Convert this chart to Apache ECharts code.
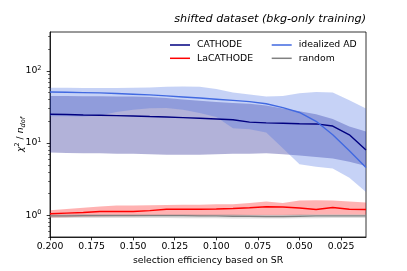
<!DOCTYPE html>
<html>
<head>
<meta charset="utf-8">
<script src="https://cdn.jsdelivr.net/npm/echarts@6/dist/echarts.min.js"></script>
<style>html,body{margin:0;padding:0;background:#fff}#c{width:407px;height:271px}</style>
</head>
<body>
<div id="c"></div>
<script>
// selection efficiency (x)
const effs = [0.20,0.19,0.18,0.17,0.16,0.15,0.14,0.13,0.12,0.11,0.10,0.09,0.08,0.07,0.06,0.05,0.04,0.03,0.02,0.01];
// CATHODE
const cathodeMed = [25,24.8,24.5,24.3,24,23.7,23.3,23,22.5,22,21.5,21,19.5,19,18.8,18.5,18.4,17.2,13,8];
const cathodeHi  = [45,45,44.5,44.5,44,44,43.5,42,40,38.5,37,36,35,33,30,27.5,25,21.5,17,14.4];
const cathodeLo  = [7.4,7.3,7.2,7.2,7.1,7.1,7.0,6.9,6.9,6.9,7.0,7.1,7.1,7.2,7.0,6.7,6.4,6.1,5.5,4.8];
// idealized AD
const idealMed = [51,50.5,50,49.5,48.5,47.5,46.5,45,43.5,42,40.5,39,37.5,35,31,26.5,20,13,7.8,4.6];
const idealHi  = [58.5,58.5,58,58,58,58.5,59,60,60.5,60,56,50,47,44,45,49,51,50,39,30];
const idealLo  = [23.5,23.5,23.3,24,27,29,30.3,30.5,29,26,23,16,15.5,14,8.5,5.1,4.7,4.45,3.3,2.1];
// LaCATHODE
const lacathMed = [1.05,1.07,1.09,1.13,1.13,1.13,1.16,1.21,1.21,1.21,1.22,1.24,1.27,1.31,1.30,1.26,1.20,1.28,1.21,1.20];
const lacathHi  = [1.17,1.22,1.27,1.32,1.36,1.37,1.38,1.39,1.40,1.40,1.42,1.42,1.48,1.55,1.48,1.60,1.62,1.60,1.55,1.50];
const lacathLo  = [0.93,0.94,0.95,0.96,0.97,0.97,0.98,0.98,0.98,0.98,0.99,0.99,1.0,1.0,1.0,1.01,1.02,1.02,1.02,1.02];
// random
const randMed = [0.98,0.98,0.99,0.99,0.99,0.99,0.99,0.99,0.99,0.98,0.98,0.97,0.97,0.96,0.96,0.97,0.98,0.98,0.98,0.98];
const randHi  = [1.03,1.03,1.04,1.04,1.04,1.04,1.04,1.04,1.04,1.03,1.03,1.03,1.02,1.02,1.02,1.03,1.03,1.03,1.03,1.03];
const randLo  = [0.92,0.92,0.92,0.92,0.92,0.92,0.92,0.92,0.91,0.91,0.91,0.90,0.90,0.90,0.90,0.91,0.91,0.92,0.92,0.92];
// ticks
const xTicks = [0.200,0.175,0.150,0.125,0.100,0.075,0.050,0.025];
const yMajor = [1,10,100];
const yMinor = [0.5,0.6,0.7,0.8,0.9,2,3,4,5,6,7,8,9,20,30,40,50,60,70,80,90,200,300];

const FONT = 'DejaVu Sans';
const FS = 9.3;

function band(name, lo, hi, color) {
  return {
    type: 'custom', name: name, silent: true, clip: true, z: 1,
    data: effs.map((e, i) => [e, lo[i], hi[i]]),
    encode: { x: 0, y: [1, 2] },
    renderItem: function (params, api) {
      if (params.dataIndex !== 0) return null;
      const pts = [];
      for (let i = 0; i < effs.length; i++) pts.push(api.coord([effs[i], hi[i]]));
      for (let i = effs.length - 1; i >= 0; i--) pts.push(api.coord([effs[i], lo[i]]));
      return { type: 'polygon', shape: { points: pts }, style: { fill: color } };
    }
  };
}
function line(name, med, color) {
  return {
    type: 'line', name: name, z: 3,
    data: effs.map((e, i) => [e, med[i]]),
    showSymbol: false, symbol: 'none', color: color,
    lineStyle: { color: color, width: 1.4 }, itemStyle: { color: color },
    emphasis: { disabled: true }
  };
}

const chart = echarts.init(document.getElementById('c'), null, { renderer: 'canvas' });
chart.setOption({
  animation: false,
  backgroundColor: '#fff',
  textStyle: { fontFamily: FONT },
  title: {
    text: 'shifted dataset (bkg-only training)',
    right: 41, top: 14, padding: 0,
    textStyle: { fontFamily: FONT, fontSize: 11.2, fontStyle: 'italic', fontWeight: 'normal', color: '#000' }
  },
  grid: { left: 50, right: 41, top: 32, bottom: 34, show: true, borderColor: '#000', borderWidth: 0.8,
    backgroundColor: 'transparent', containLabel: false, outerBoundsMode: 'none' },
  legend: [
    { orient: 'vertical', left: 170, top: 39, icon: 'rect', itemWidth: 20, itemHeight: 1.5, itemGap: 1.3,
      padding: 0, data: ['CATHODE', 'LaCATHODE'],
      textStyle: { fontFamily: FONT, fontSize: FS, color: '#000', lineHeight: 12, padding: [0, 0, 0, 2] } },
    { orient: 'vertical', left: 271.7, top: 39, icon: 'rect', itemWidth: 20, itemHeight: 1.5, itemGap: 1.3,
      padding: 0, data: ['idealized AD', 'random'],
      textStyle: { fontFamily: FONT, fontSize: FS, color: '#000', lineHeight: 12, padding: [0, 0, 0, 2] } }
  ],
  xAxis: {
    type: 'value', min: 0.01, max: 0.2, inverse: true,
    name: 'selection efficiency based on SR', nameLocation: 'middle', nameGap: 19, nameMoveOverlap: false,
    nameTextStyle: { fontFamily: FONT, fontSize: FS, color: '#000' },
    axisLine: { lineStyle: { color: '#000', width: 0.8 } },
    axisTick: { customValues: xTicks, length: 3.3, lineStyle: { color: '#000', width: 0.8 } },
    axisLabel: { customValues: xTicks, margin: 5.5, fontFamily: FONT, fontSize: FS, color: '#000',
      formatter: v => v.toFixed(3) },
    splitLine: { show: false }
  },
  yAxis: [
    {
      type: 'log', logBase: 10, min: 0.5, max: 345,
      name: '{i|χ}{sup|2}{n| / }{i|n}{sub|dof}', nameLocation: 'middle', nameRotate: 90, nameGap: 23,
      nameMoveOverlap: false,
      nameTextStyle: {
        fontFamily: FONT, fontSize: FS, color: '#000',
        rich: {
          i: { fontFamily: FONT, fontSize: FS, fontStyle: 'italic', lineHeight: 13 },
          n: { fontFamily: FONT, fontSize: FS, lineHeight: 13 },
          sup: { fontFamily: FONT, fontSize: 6.5, lineHeight: 8, verticalAlign: 'top' },
          sub: { fontFamily: FONT, fontSize: 6.5, fontStyle: 'italic', lineHeight: 8, verticalAlign: 'bottom' }
        }
      },
      axisLine: { show: true, lineStyle: { color: '#000', width: 0.8 } },
      axisTick: { customValues: yMajor, length: 3.3, lineStyle: { color: '#000', width: 0.8 } },
      axisLabel: {
        customValues: yMajor, margin: 8.5, color: '#000',
        formatter: v => '{b|10}{s|' + Math.round(Math.log10(v)) + '}',
        rich: {
          b: { fontFamily: FONT, fontSize: FS, color: '#000', lineHeight: 12 },
          s: { fontFamily: FONT, fontSize: 6.5, color: '#000', lineHeight: 8, verticalAlign: 'top' }
        }
      },
      splitLine: { show: false }, minorTick: { show: false }
    },
    {
      type: 'log', logBase: 10, min: 0.5, max: 345, position: 'left',
      axisLine: { show: false },
      axisTick: { customValues: yMinor, length: 1.9, lineStyle: { color: '#000', width: 0.6 } },
      axisLabel: { show: false },
      splitLine: { show: false }
    }
  ],
  series: [
    band('b1', cathodeLo, cathodeHi, 'rgba(0,0,128,0.3)'),
    band('b2', lacathLo, lacathHi, 'rgba(255,0,0,0.3)'),
    band('b3', idealLo, idealHi, 'rgba(65,105,225,0.3)'),
    band('b4', randLo, randHi, 'rgba(128,128,128,0.25)'),
    line('CATHODE', cathodeMed, '#000080'),
    line('LaCATHODE', lacathMed, '#ff0000'),
    line('idealized AD', idealMed, '#4169e1'),
    line('random', randMed, '#808080')
  ]
});
</script>
</body>
</html>
